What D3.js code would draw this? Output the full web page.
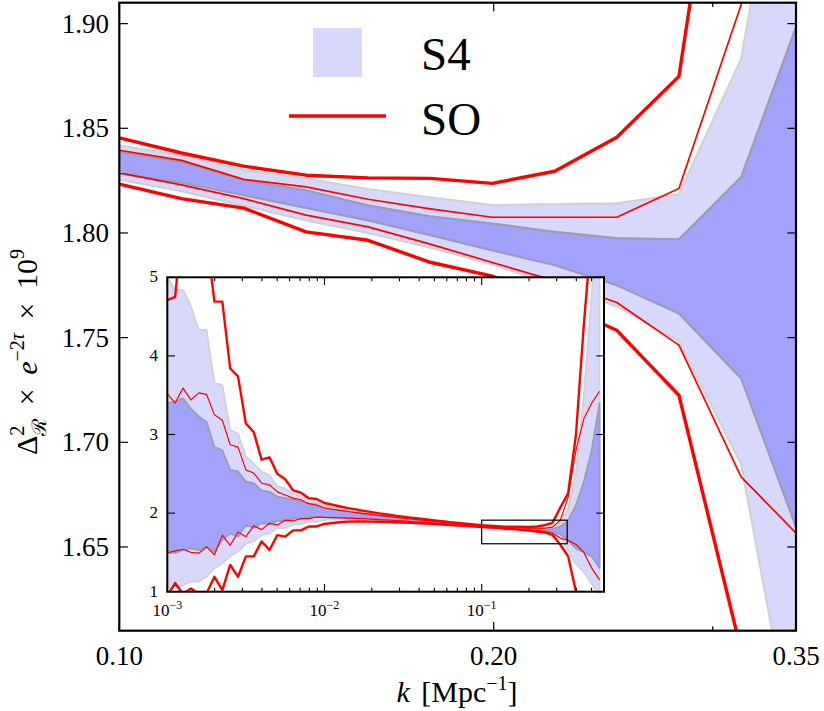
<!DOCTYPE html>
<html><head><meta charset="utf-8">
<script src="https://cdn.jsdelivr.net/npm/d3@7"></script>
<style>body{margin:0;background:#fff}svg{display:block}text{font-family:"Liberation Serif","DejaVu Serif",serif;fill:#000}</style>
</head><body><svg id="c" width="824" height="711"></svg>
<script>
// k bins [Mpc^-1]
const kValues = [0.001,0.001122,0.001259,0.001413,0.001585,0.001778,0.001995,0.002239,0.002512,0.002818,
0.003162,0.003548,0.003981,0.004467,0.005012,0.005623,0.00631,0.007079,0.007943,0.008913,
0.01,0.01122,0.01259,0.01413,0.01585,0.01778,0.01995,0.02239,0.02512,0.02818,
0.03162,0.03548,0.03981,0.04467,0.05012,0.05623,0.0631,0.07079,0.07943,0.08913,
0.1,0.1122,0.1259,0.1413,0.1585,0.1778,0.1995,0.2239,0.2512,0.2818,
0.3162,0.3548,0.3981,0.4467,0.5012,0.5623];
// S4 light band (outer)
const s4OuterHi = [5.0,4.84,4.84,4.63,4.33,4.33,3.65,3.63,3.06,3.01,2.72,2.63,2.53,2.48,2.34,2.31,2.25,2.21,2.17,2.15,
2.095,2.076,2.058,2.041,2.026,2.011,1.996,1.982,1.970,1.957,1.945,1.933,1.923,1.911,1.901,1.891,1.880,1.871,1.862,1.851,
1.8419,1.837,1.830,1.826,1.821,1.817,1.8133,1.8138,1.8141,1.8185,1.8833,2.05,2.5,3.5,4.8,6.0];
const s4OuterLo = [1.04,1.06,1.08,1.13,1.13,1.19,1.30,1.36,1.45,1.51,1.61,1.64,1.72,1.74,1.81,1.81,1.85,1.86,1.89,1.89,
1.915,1.916,1.916,1.915,1.914,1.911,1.908,1.904,1.900,1.895,1.891,1.885,1.879,1.873,1.867,1.861,1.854,1.847,1.841,1.833,
1.8255,1.820,1.813,1.806,1.800,1.793,1.785,1.775,1.765,1.7483,1.6895,1.53,1.35,1.25,1.1,0.95];
// S4 dark band (inner)
const s4InnerHi = [3.40,3.42,3.46,3.33,3.23,3.16,2.84,2.80,2.55,2.53,2.40,2.38,2.29,2.27,2.21,2.19,2.17,2.15,2.12,2.11,
2.062,2.046,2.032,2.018,2.005,1.992,1.980,1.968,1.957,1.945,1.935,1.924,1.914,1.904,1.894,1.885,1.875,1.866,1.857,1.848,
1.8387,1.834,1.8252,1.8204,1.8132,1.808,1.8045,1.8005,1.7975,1.7970,1.8267,1.908,2.1,2.4,2.8,3.4];
const s4InnerLo = [1.51,1.49,1.53,1.55,1.53,1.57,1.51,1.66,1.74,1.70,1.85,1.81,1.87,1.86,1.90,1.90,1.93,1.93,1.95,1.95,
1.948,1.946,1.942,1.938,1.935,1.930,1.924,1.918,1.913,1.907,1.901,1.894,1.888,1.880,1.874,1.867,1.859,1.852,1.845,1.836,
1.8284,1.824,1.818,1.812,1.806,1.799,1.7917,1.7846,1.775,1.7615,1.7305,1.65,1.55,1.5,1.45,1.3];
// SO thin lines (inner)
const soInnerHi = [3.52,3.40,3.59,3.44,3.53,3.51,3.25,3.18,2.87,2.84,2.55,2.51,2.38,2.36,2.27,2.23,2.19,2.17,2.12,2.10,
2.065,2.049,2.034,2.020,2.007,1.994,1.981,1.969,1.958,1.946,1.936,1.925,1.915,1.905,1.895,1.886,1.876,1.867,1.858,1.848,
1.8395,1.8347,1.8256,1.8220,1.8161,1.8115,1.8075,1.8075,1.8075,1.8212,1.909,2.2,2.8,3.2,3.4,3.55];
const soInnerLo = [1.49,1.52,1.54,1.50,1.49,1.57,1.47,1.72,1.59,1.76,1.70,1.84,1.79,1.87,1.85,1.91,1.90,1.93,1.93,1.95,
1.945,1.943,1.940,1.936,1.933,1.928,1.923,1.917,1.912,1.906,1.900,1.893,1.887,1.880,1.873,1.866,1.858,1.851,1.844,1.836,
1.8287,1.823,1.8164,1.8085,1.8029,1.7947,1.7859,1.7771,1.7668,1.7464,1.6835,1.653,1.6,1.5,1.3,1.15];
// SO thick lines (outer)
const soOuterHi = [4.71,4.75,5.8,6.2,6.0,5.5,4.69,4.69,3.84,3.74,3.14,3.03,2.68,2.71,2.50,2.43,2.29,2.26,2.19,2.18,
2.128,2.106,2.084,2.064,2.047,2.029,2.012,1.996,1.983,1.968,1.955,1.942,1.931,1.918,1.907,1.897,1.885,1.875,1.865,1.855,
1.8454,1.8382,1.8319,1.8276,1.8263,1.8261,1.8237,1.8295,1.8457,1.8748,2.07,2.25,3.0,4.4,5.6,7.0];
const soOuterLo = [0.95,1.11,0.97,1.04,0.97,0.98,1.19,1.02,1.34,1.19,1.45,1.45,1.64,1.53,1.72,1.70,1.78,1.78,1.83,1.83,
1.862,1.874,1.884,1.892,1.893,1.893,1.892,1.890,1.887,1.884,1.881,1.876,1.871,1.866,1.861,1.855,1.849,1.843,1.837,1.829,
1.8233,1.8164,1.8119,1.8005,1.7965,1.786,1.7794,1.7666,1.7535,1.7225,1.6004,1.45,1.0,0.5,0.0,-0.5];

const mainXTicks = [0.1,0.2,0.35];
const mainXTickLabels = ["0.10","0.20","0.35"];
const mainXMinor = [0.3];
const mainYTicks = [1.65,1.70,1.75,1.80,1.85,1.90];
const insetXTicks = [0.001,0.01,0.1];
const insetXTickExp = ["−3","−2","−1"];
const insetYTicks = [1,2,3,4,5];
const legendLabels = ["S4","SO"];

const C = {light:"#d8d8fb", lightEdge:"#d2d2d6", dark:"#a2a2fa", darkEdge:"#9c9cb6", red:"#ff0000"};
const svg = d3.select("#c");

function panel(g, x, y, id, wThick, wThin, edgeW){
  const [x0,x1] = x.range(), [y0,y1] = y.range();
  g.append("clipPath").attr("id",id).append("rect")
    .attr("x",x0).attr("y",y1).attr("width",x1-x0).attr("height",y0-y1);
  const body = g.append("g").attr("clip-path",`url(#${id})`);
  const idx = d3.range(kValues.length);
  const area = (lo,hi)=>d3.area().x(i=>x(kValues[i])).y0(i=>y(lo[i])).y1(i=>y(hi[i]))(idx);
  const line = (arr)=>d3.line().x(i=>x(kValues[i])).y(i=>y(arr[i]))(idx);
  body.append("path").attr("d",area(s4OuterLo,s4OuterHi)).attr("fill",C.light)
    .attr("stroke",C.lightEdge).attr("stroke-width",edgeW).attr("stroke-linejoin","round");
  body.append("path").attr("d",area(s4InnerLo,s4InnerHi)).attr("fill",C.dark)
    .attr("stroke",C.darkEdge).attr("stroke-width",edgeW).attr("stroke-linejoin","round");
  [soInnerHi,soInnerLo].forEach(a=>body.append("path").attr("d",line(a)).attr("fill","none")
    .attr("stroke",C.red).attr("stroke-width",wThin).attr("stroke-linejoin","round"));
  [soOuterHi,soOuterLo].forEach(a=>body.append("path").attr("d",line(a)).attr("fill","none")
    .attr("stroke",C.red).attr("stroke-width",wThick).attr("stroke-linejoin","round"));
  return body;
}

// ---------- main panel ----------
const x = d3.scaleLog().domain([0.1,0.35]).range([119.3,796]);
const y = d3.scaleLinear().domain([1.61,1.91]).range([630.7,2.7]);
const gm = svg.append("g");
panel(gm, x, y, "clipMain", 3.4, 1.7, 2.2);

// ticks main
const tk = gm.append("g").attr("stroke","#000").attr("stroke-width",1.2);
mainYTicks.forEach(v=>{
  tk.append("line").attr("x1",119.3).attr("x2",128).attr("y1",y(v)).attr("y2",y(v));
  tk.append("line").attr("x1",796).attr("x2",787.3).attr("y1",y(v)).attr("y2",y(v));
});
mainXTicks.forEach(v=>{
  tk.append("line").attr("x1",x(v)).attr("x2",x(v)).attr("y1",630.7).attr("y2",622);
  tk.append("line").attr("x1",x(v)).attr("x2",x(v)).attr("y1",2.7).attr("y2",11.4);
});
mainXMinor.forEach(v=>{
  tk.append("line").attr("x1",x(v)).attr("x2",x(v)).attr("y1",630.7).attr("y2",626.3);
  tk.append("line").attr("x1",x(v)).attr("x2",x(v)).attr("y1",2.7).attr("y2",7.1);
});
gm.append("rect").attr("x",119.3).attr("y",2.7).attr("width",796-119.3).attr("height",628)
  .attr("fill","none").attr("stroke","#000").attr("stroke-width",2.2);
mainYTicks.forEach(v=>gm.append("text").attr("x",109).attr("y",y(v)+9).attr("text-anchor","end")
  .attr("font-size",27).text(v.toFixed(2)));
mainXTicks.forEach((v,i)=>gm.append("text").attr("x",x(v)).attr("y",665).attr("text-anchor","middle")
  .attr("font-size",27).text(mainXTickLabels[i]));

// axis labels
const xl = svg.append("text").attr("x",457).attr("y",702).attr("text-anchor","middle").attr("font-size",30);
xl.append("tspan").attr("font-style","italic").text("k");
xl.append("tspan").attr("dx",4).text(" [Mpc");
xl.append("tspan").attr("font-size",20).attr("dy",-12).text("−1");
xl.append("tspan").attr("dy",12).text("]");

const yl = svg.append("text").attr("transform","translate(37,352) rotate(-90)").attr("text-anchor","middle").attr("font-size",30);
yl.append("tspan").text("Δ");
yl.append("tspan").attr("font-size",20).attr("dy",-13).text("2");
yl.append("tspan").attr("font-size",20).attr("dx",-10).attr("dy",22).text("ℛ");
yl.append("tspan").attr("dy",-9).attr("dx",6).text(" × ");
yl.append("tspan").attr("dx",6).attr("font-style","italic").text("e");
yl.append("tspan").attr("font-size",20).attr("dy",-13).text("−2");
yl.append("tspan").attr("font-size",20).attr("font-style","italic").text("τ");
yl.append("tspan").attr("dy",13).attr("dx",6).text(" × ");
yl.append("tspan").attr("dx",6).text("10");
yl.append("tspan").attr("font-size",20).attr("dy",-13).text("9");

// legend
svg.append("rect").attr("x",313).attr("y",28).attr("width",49).attr("height",49).attr("fill",C.light);
svg.append("line").attr("x1",289).attr("x2",386).attr("y1",116).attr("y2",116).attr("stroke",C.red).attr("stroke-width",3.4);
svg.append("text").attr("x",421).attr("y",70).attr("font-size",47).text(legendLabels[0]);
svg.append("text").attr("x",421).attr("y",135).attr("font-size",47).text(legendLabels[1]);

// ---------- inset ----------
const xi = d3.scaleLog().domain([0.001,0.6]).range([167.3,604]);
const yi = d3.scaleLinear().domain([1,5]).range([591.7,277.3]);
const gi = svg.append("g");
gi.append("rect").attr("x",167.3).attr("y",277.3).attr("width",604-167.3).attr("height",591.7-277.3).attr("fill","#fff");
const bi = panel(gi, xi, yi, "clipInset", 2.4, 1.2, 1.8);
// zoom box
bi.append("rect").attr("x",xi(0.1)).attr("y",yi(1.91)).attr("width",xi(0.35)-xi(0.1)).attr("height",yi(1.61)-yi(1.91))
  .attr("fill","none").attr("stroke","#000").attr("stroke-width",1.2);
const ti = gi.append("g").attr("stroke","#000").attr("stroke-width",1.1);
insetXTicks.forEach(v=>{
  ti.append("line").attr("x1",xi(v)).attr("x2",xi(v)).attr("y1",591.7).attr("y2",584);
  ti.append("line").attr("x1",xi(v)).attr("x2",xi(v)).attr("y1",277.3).attr("y2",285);
  for(let m=2;m<=9;m++){
    const vv=v*m; if(vv>0.6) break;
    ti.append("line").attr("x1",xi(vv)).attr("x2",xi(vv)).attr("y1",591.7).attr("y2",587.7);
    ti.append("line").attr("x1",xi(vv)).attr("x2",xi(vv)).attr("y1",277.3).attr("y2",281.3);
  }
});
insetYTicks.forEach(v=>{
  ti.append("line").attr("x1",167.3).attr("x2",175).attr("y1",yi(v)).attr("y2",yi(v));
  ti.append("line").attr("x1",604).attr("x2",596.3).attr("y1",yi(v)).attr("y2",yi(v));
});
gi.append("rect").attr("x",167.3).attr("y",277.3).attr("width",604-167.3).attr("height",591.7-277.3)
  .attr("fill","none").attr("stroke","#000").attr("stroke-width",2);
insetYTicks.forEach(v=>gi.append("text").attr("x",158).attr("y",yi(v)+5).attr("text-anchor","end")
  .attr("font-size",17).text(v));
insetXTicks.forEach((v,i)=>{
  const t=gi.append("text").attr("x",xi(v)).attr("y",616).attr("text-anchor","middle").attr("font-size",17);
  t.append("tspan").text("10");
  t.append("tspan").attr("font-size",12).attr("dy",-7).text(insetXTickExp[i]);
});
</script></body></html>
